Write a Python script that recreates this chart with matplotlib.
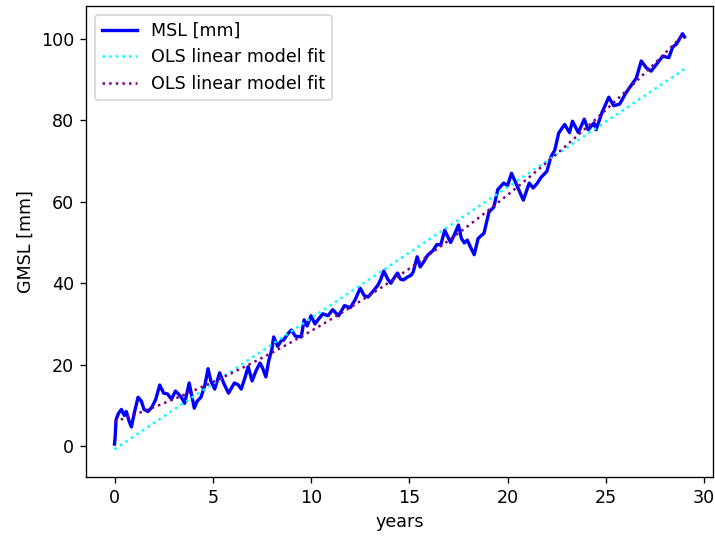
import numpy as np
import matplotlib
matplotlib.use("Agg")
import matplotlib.pyplot as plt

# Global mean sea level record (years since start, mm)
years = [
    0.0, 0.03, 0.08, 0.2, 0.35, 0.5, 0.6, 0.75, 0.86, 1.0,
    1.2, 1.37, 1.5, 1.7, 1.9, 2.1, 2.3, 2.5, 2.7, 2.9,
    3.1, 3.25, 3.4, 3.57, 3.8, 4.06, 4.2, 4.4, 4.6, 4.76,
    4.9, 5.1, 5.35, 5.55, 5.8, 6.1, 6.3, 6.45, 6.65, 6.8,
    7.0, 7.2, 7.4, 7.55, 7.7, 7.85, 8.0, 8.1, 8.3, 8.5,
    8.6, 8.8, 9.0, 9.2, 9.5, 9.65, 9.8, 10.0, 10.2, 10.35,
    10.6, 10.86, 11.1, 11.4, 11.7, 12.0, 12.25, 12.5, 12.7, 12.9,
    13.15, 13.4, 13.55, 13.7, 13.9, 14.06, 14.25, 14.4, 14.55, 14.7,
    14.9, 15.1, 15.2, 15.4, 15.55, 15.7, 15.95, 16.2, 16.4, 16.6,
    16.8, 16.95, 17.1, 17.3, 17.5, 17.65, 17.8, 17.95, 18.1, 18.3,
    18.5, 18.8, 19.05, 19.3, 19.5, 19.8, 20.0, 20.2, 20.5, 20.8,
    21.1, 21.3, 21.5, 21.7, 22.0, 22.2, 22.4, 22.6, 22.9, 23.15,
    23.3, 23.6, 23.9, 24.1, 24.4, 24.5, 24.8, 25.15, 25.4, 25.7,
    26.0, 26.3, 26.55, 26.8, 27.06, 27.3, 27.56, 27.9, 28.2, 28.4,
    28.6, 28.9, 29.0,
]
gmsl = [
    0.5, 2.0, 6.5, 8.0, 9.0, 7.5, 8.5, 6.0, 4.7, 8.0,
    12.0, 11.0, 9.0, 8.5, 9.5, 11.5, 15.0, 13.0, 12.8, 11.5,
    13.5, 12.8, 12.0, 10.5, 15.5, 9.3, 11.0, 12.0, 15.0, 19.0,
    16.0, 14.0, 18.0, 15.5, 13.0, 15.5, 15.0, 14.0, 17.0, 19.5,
    16.0, 18.5, 20.4, 19.0, 17.0, 21.0, 23.6, 26.8, 24.5, 26.0,
    26.0, 27.5, 28.5, 27.0, 26.8, 31.0, 29.5, 32.0, 30.0, 31.0,
    32.5, 32.0, 33.5, 32.0, 34.5, 34.0, 36.0, 38.8, 37.0, 36.6,
    38.0, 39.5, 41.0, 43.0, 41.0, 40.0, 41.5, 42.5, 41.0, 40.8,
    41.5, 42.0, 42.8, 46.5, 44.0, 45.0, 47.0, 48.0, 49.5, 49.4,
    53.0, 51.5, 50.0, 52.0, 54.3, 51.0, 49.9, 50.6, 49.0, 47.0,
    51.0, 52.3, 57.5, 58.7, 63.0, 64.6, 64.0, 67.0, 63.7, 60.4,
    64.6, 63.4, 64.5, 66.0, 67.5, 71.0, 72.7, 76.9, 79.0, 77.0,
    79.8, 77.0, 80.3, 77.7, 79.4, 77.7, 81.9, 85.7, 83.6, 84.0,
    86.6, 88.7, 90.4, 94.6, 92.9, 92.1, 93.7, 95.8, 95.4, 98.0,
    98.8, 101.3, 100.5,
]

t = np.asarray(years)
y = np.asarray(gmsl)

# Ordinary least squares fits: straight line and quadratic trend
lin = np.polyval(np.polyfit(t, y, 1), t)
quad = np.polyval(np.polyfit(t, y, 2), t)

plt.rcParams["font.size"] = 10.5

fig = plt.figure(figsize=(715 / 120, 536 / 120), dpi=120)
ax = fig.add_axes([86 / 715, 1 - 477 / 536, (713 - 86) / 715, (477 - 6) / 536])

ax.plot(t, y, color="blue", linewidth=2.0, label="MSL [mm]")
ax.plot(t, lin, color="cyan", linestyle=":", linewidth=1.5, label="OLS linear model fit")
ax.plot(t, quad, color="purple", linestyle=":", linewidth=1.5, label="OLS linear model fit")

ax.set_xlim(-1.45, 30.45)
ax.set_ylim(-7.6, 108.1)
ax.set_xlabel("years")
ax.set_ylabel("GMSL [mm]")
ax.legend(loc="upper left")

fig.savefig("out.png", dpi=120)
